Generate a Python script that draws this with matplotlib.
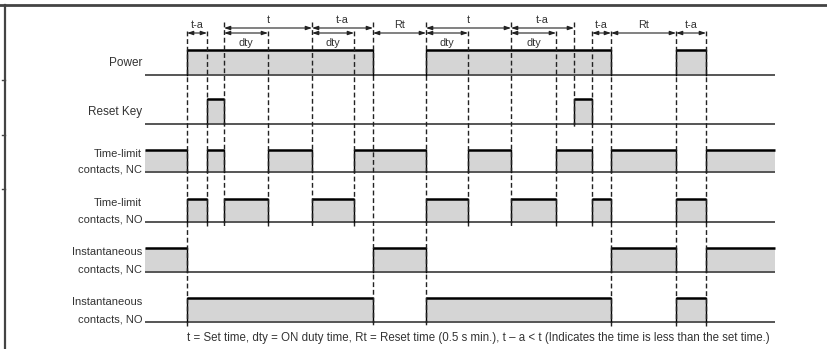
import matplotlib
matplotlib.use("Agg")
import matplotlib.pyplot as plt
from matplotlib.lines import Line2D

# ---------------- data (time units) ----------------
END = 630
row_labels = [
    ["Power"],
    ["Reset Key"],
    ["Time-limit", "contacts, NC"],
    ["Time-limit", "contacts, NO"],
    ["Instantaneous", "contacts, NC"],
    ["Instantaneous", "contacts, NO"],
]
power = [(42, 228), (281, 466), (531, 561)]
reset_key = [(62, 79), (429, 447)]
tl_nc = [(0, 42), (62, 79), (123, 167), (209, 281), (323, 366), (411, 447), (466, 531), (561, END)]
tl_no = [(42, 62), (79, 123), (167, 209), (281, 323), (366, 411), (447, 466), (531, 561)]
inst_nc = [(0, 42), (228, 281), (466, 531), (561, END)]
inst_no = [(42, 228), (281, 466), (531, 561)]
signals = [power, reset_key, tl_nc, tl_no, inst_nc, inst_no]

# upper annotations: (start, end, label, level)  level 0 = high, 1 = low
spans = [
    (42, 62, "t-a", 1),
    (79, 167, "t", 0),
    (167, 228, "t-a", 0),
    (228, 281, "Rt", 1),
    (281, 366, "t", 0),
    (366, 429, "t-a", 0),
    (447, 466, "t-a", 1),
    (466, 531, "Rt", 1),
    (531, 561, "t-a", 1),
]
duty_spans = [(79, 123), (167, 209), (281, 323), (366, 411)]

# guide lines: (time, top level, last row reached)
guides = [
    (42, 1, 5), (62, 1, 3), (79, 0, 3), (123, 1, 3), (167, 0, 3), (209, 1, 3),
    (228, 0, 5), (281, 0, 5), (323, 1, 3), (366, 0, 3), (411, 1, 3), (429, 0, 1),
    (447, 1, 3), (466, 1, 5), (531, 1, 5), (561, 1, 5),
]
footer = ("t = Set time, dty = ON duty time, Rt = Reset time (0.5 s min.), "
          "t \u2013 a < t (Indicates the time is less than the set time.)")

# ---------------- layout ----------------
W, H = 827, 349
fig = plt.figure(figsize=(W / 100, H / 100), dpi=100)
ax = fig.add_axes([0, 0, 1, 1])
X0 = 145
ax.set_xlim(-X0, W - X0)
ax.set_ylim(H, 0)
ax.axis("off")

FONT = "Liberation Sans"
base_y = [75, 124, 172, 222, 272, 322]
high_h = [25, 25, 22, 23, 24, 24]
fill_c = "#d5d5d5"

for i, sig in enumerate(signals):
    b = base_y[i]
    t = b - high_h[i]
    ax.plot([0, END], [b, b], color="#555555", lw=1.4, solid_capstyle="butt", zorder=2)
    for s, e in sig:
        ax.fill_between([s, e], [b, b], [t, t], color=fill_c, lw=0, zorder=1)
        ax.plot([s, e], [t, t], color="black", lw=1.8, solid_capstyle="butt", zorder=3)
        if s > 0:
            ax.plot([s, s], [b, t], color="black", lw=1.0, zorder=3)
        if e < END:
            ax.plot([e, e], [b, t], color="black", lw=1.0, zorder=3)
    lab = row_labels[i]
    if len(lab) == 1:
        ax.text(-3, (b + t) / 2 + 1, lab[0], ha="right", va="center",
                fontsize=8.5, family=FONT, color="#333333")
    else:
        ax.text(-3, t + 4, lab[0], ha="right", va="center",
                fontsize=8.0, family=FONT, color="#333333")
        ax.text(-3, b - 3, lab[1], ha="right", va="center",
                fontsize=8.0, family=FONT, color="#333333")

arrow_y = [28, 33]
label_y = [20, 25]
top_y = [22, 31]
for x, lvl, last in guides:
    ax.plot([x, x], [top_y[lvl], base_y[last] + 4], color="#222222", lw=1.0,
            ls=(0, (3.5, 2)), zorder=4)

ap = dict(arrowstyle="<|-|>,head_length=0.45,head_width=0.15", lw=0.8,
          color="#222222", shrinkA=0, shrinkB=0, mutation_scale=8)
for s, e, lab, lvl in spans:
    ax.annotate("", xy=(s, arrow_y[lvl]), xytext=(e, arrow_y[lvl]), arrowprops=ap)
    ax.text((s + e) / 2, label_y[lvl], lab, ha="center", va="center",
            fontsize=7.8, family=FONT, color="#333333")
for s, e in duty_spans:
    ax.annotate("", xy=(s, 33), xytext=(e, 33), arrowprops=ap)
    ax.text((s + e) / 2, 43, "dty", ha="center", va="center",
            fontsize=7.8, family=FONT, color="#333333")

ax.text(42, 338, footer, ha="left", va="center", fontsize=8.3, family=FONT,
        color="#333333")

# frame
fig.add_artist(Line2D([0, 1], [1 - 4.5 / H, 1 - 4.5 / H], color="#444444", lw=2.0,
                      transform=fig.transFigure))
fig.add_artist(Line2D([4.5 / W, 4.5 / W], [0, 1 - 4.5 / H], color="#444444", lw=1.6,
                      transform=fig.transFigure))
for ty in (80, 135, 189):
    fig.add_artist(Line2D([1.5 / W, 4.5 / W], [1 - ty / H, 1 - ty / H], color="#444444",
                          lw=1.0, transform=fig.transFigure))

fig.savefig("out.png", dpi=100)
